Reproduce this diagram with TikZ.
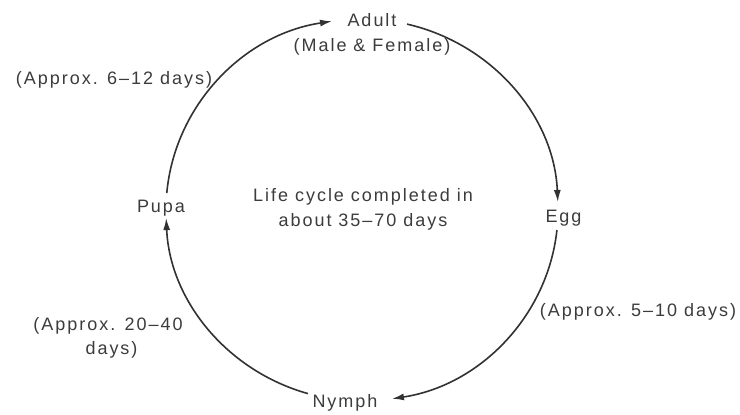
\documentclass[tikz,border=0pt]{standalone}
\usepackage{fontspec}
\setmainfont{Liberation Sans}[LetterSpace=11]
\usetikzlibrary{arrows.meta,calc}
\definecolor{txtc}{RGB}{60,60,60}
\definecolor{linec}{RGB}{50,50,50}
\begin{document}
\begin{tikzpicture}[x=1pt,y=1pt,
  lbl/.style={inner sep=0pt, anchor=base, text=txtc, font=\fontsize{18}{24}\selectfont},
  conn/.style={draw=linec, line width=1.6pt, -{Latex[length=12pt,width=7pt]}}]
\fill[white] (0,0) rectangle (740,-415);
\useasboundingbox (0,0) rectangle (740,-415);
% labels
\node[lbl] (adult) at (372,-27) {Adult};
\node[lbl] (mf) at (372,-51) {(Male \& Female)};
\node[lbl] (a612) at (114,-84) {(Approx. 6–12 days)};
\node[lbl] (pupa) at (161,-212) {Pupa};
\node[lbl] (life1) at (363,-201) {Life cycle completed in};
\node[lbl] (life2) at (363,-226) {about 35–70 days};
\node[lbl] (egg) at (563.5,-222) {Egg};
\node[lbl] (a510) at (638,-316) {(Approx. 5–10 days)};
\node[lbl] (a2040a) at (108,-330) {(Approx. 20–40};
\node[lbl] (a2040b) at (111.5,-354) {days)};
\node[lbl] (nymph) at (345,-407) {Nymph};
% cycle
\coordinate (ctr) at (362,-210);
\coordinate (ae) at ($(ctr)+(76.7:196 and 191)$);
\coordinate (en) at ($(ctr)+(-6:196 and 191)$);
\coordinate (np) at ($(ctr)+(-106:196 and 191)$);
\coordinate (pa) at ($(ctr)+(174.9:196 and 191)$);
\draw[conn] (ae) arc[start angle=76.7, end angle=2.4, x radius=196, y radius=191];
\draw[conn] (en) arc[start angle=-6, end angle=-81.2, x radius=196, y radius=191];
\draw[conn] (np) arc[start angle=-106, end angle=-177.6, x radius=196, y radius=191];
\draw[conn] (pa) arc[start angle=174.9, end angle=98.8, x radius=196, y radius=191];
\end{tikzpicture}
\end{document}
